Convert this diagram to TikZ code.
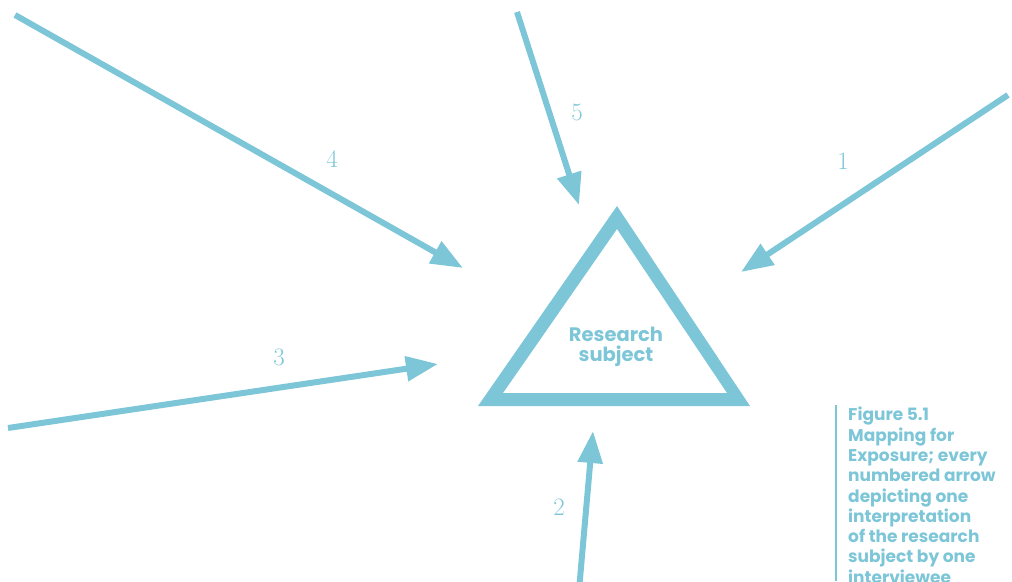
\documentclass[tikz,border=0pt]{standalone}
\usepackage{fontspec}
\usetikzlibrary{arrows.meta}
\newfontfamily\capfont{Poppins}
\definecolor{cyanline}{RGB}{125,198,216}
\tikzset{
  ray/.style={draw=cyanline, line width=6pt, -{Triangle[length=32pt,width=24pt]}},
  numlabel/.style={text=cyanline, font=\fontsize{25}{25}\selectfont, inner sep=0pt},
}
\begin{document}
\begin{tikzpicture}[x=1pt,y=-1pt]
\useasboundingbox (0,0) rectangle (1012,581);
\begin{scope}
\clip (0,0) rectangle (1012,581);
% triangle
\fill[cyanline, even odd rule] (478,406) -- (617,206) -- (750,406) -- cycle
   (503,393) -- (617,229) -- (727,393) -- cycle;
\node[text=cyanline, align=center, font=\capfont\bfseries\fontsize{19.5}{20}\selectfont, inner sep=0pt] (subj) at (616,347) {Research\\subject};
% arrow coordinates
\coordinate (s1) at (1008,95);  \coordinate (t1) at (741,272);
\coordinate (s2) at (579,590);  \coordinate (t2) at (593,431);
\coordinate (s3) at (8,428);    \coordinate (t3) at (438,364);
\coordinate (s4) at (15,15);    \coordinate (t4) at (463,268);
\coordinate (s5) at (517,12);   \coordinate (t5) at (579,205);
\draw[ray] (s1) -- (t1);
\draw[ray] (s2) -- (t2);
\draw[ray] (s3) -- (t3);
\draw[ray] (s4) -- (t4);
\draw[ray] (s5) -- (t5);
\node[numlabel] (n1) at (843,161) {1};
\node[numlabel] (n2) at (559,507) {2};
\node[numlabel] (n3) at (279,357) {3};
\node[numlabel] (n4) at (332,159) {4};
\node[numlabel] (n5) at (577,112) {5};
% caption
\coordinate (bartop) at (836,405);
\coordinate (barbot) at (836,581);
\draw[cyanline, line width=2.5pt] (bartop) -- (barbot);
\node[text=cyanline, align=left, anchor=north west, inner sep=0pt,
      font=\capfont\bfseries\fontsize{17}{20.3}\selectfont] (cap) at (848,407)
  {Figure 5.1\\Mapping for\\Exposure; every\\numbered arrow\\depicting one\\interpretation\\of the research\\subject by one\\interviewee};
\end{scope}
\end{tikzpicture}
\end{document}
